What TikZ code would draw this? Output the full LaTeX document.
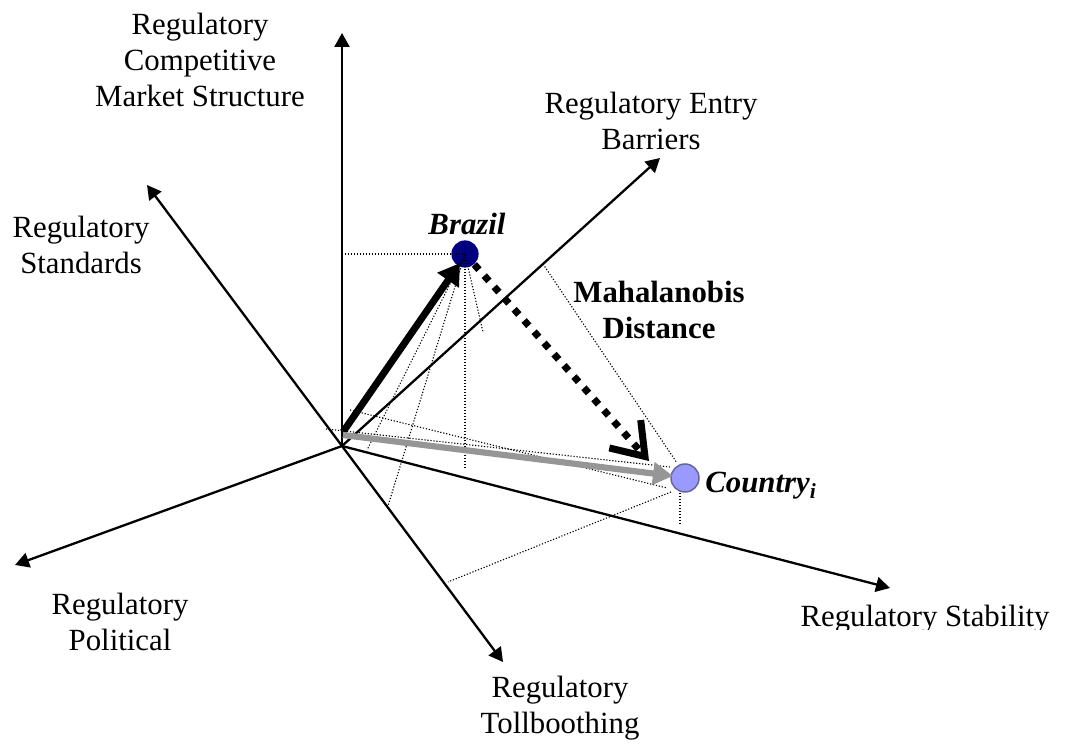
\documentclass[tikz,border=0pt]{standalone}
\usepackage{fontspec}
\setmainfont{Liberation Serif}
\usetikzlibrary{arrows.meta}
\definecolor{brazilblue}{RGB}{0,0,128}
\definecolor{countryfill}{RGB}{153,153,255}
\definecolor{countryline}{RGB}{102,102,153}
\definecolor{vecgray}{RGB}{150,150,150}
\newcommand\lblfont{\fontsize{15.4}{18}\selectfont}
\begin{document}
\begin{tikzpicture}[x=0.5pt,y=-0.5pt,
  axis/.style={line width=1.15pt,-{Triangle[length=7pt,width=7.5pt]}},
  proj/.style={line width=0.55pt,dash pattern=on 0.6pt off 0.9pt},
  lbl/.style={font=\lblfont,align=center,inner sep=0pt},
  boldlbl/.style={lbl,font=\lblfont\bfseries},
  bilbl/.style={lbl,font=\lblfont\bfseries\itshape},
  vecblack/.style={line width=3.5pt,-{Triangle[length=10.5pt,width=12.5pt]}},
  vecgrey/.style={draw=vecgray,line width=3.1pt,-{Triangle[length=10pt,width=11pt]}},
  mahal/.style={line width=3.5pt,dash pattern=on 3.5pt off 4pt,-{Straight Barb[length=15pt,width=21pt]}}
]
\useasboundingbox (0,0) rectangle (1065,747);

% axes
\coordinate (O) at (342,446);
\coordinate (tMkt) at (342,33);
\coordinate (tStd) at (147,185);
\coordinate (tEntry) at (660,158);
\coordinate (tPol) at (15,565);
\coordinate (tToll) at (503,662);
\coordinate (tStab) at (890,588);
\draw[axis] (O) -- (tMkt);
\draw[axis] (O) -- (tStd);
\draw[axis] (O) -- (tEntry);
\draw[axis] (O) -- (tPol);
\draw[axis] (O) -- (tToll);
\draw[axis] (O) -- (tStab);

% projection lines for Country
\coordinate (c1s) at (350,410);
\coordinate (c1e) at (667,488);
\coordinate (c2s) at (326,429);
\coordinate (c2e) at (670,467);
\coordinate (c3s) at (671,492);
\coordinate (c3e) at (448,582);
\coordinate (c4s) at (680,493);
\coordinate (c4e) at (680,525);
\coordinate (c5s) at (543,264);
\coordinate (c5e) at (677,463);
\draw[proj] (c1s) -- (c1e);
\draw[proj] (c2s) -- (c2e);
\draw[proj] (c3s) -- (c3e);
\draw[proj] (c4s) -- (c4e);
\draw[proj] (c5s) -- (c5e);

% Brazil point and its projection lines
\node[circle,fill=brazilblue,minimum size=13.6pt,inner sep=0pt] (brazil) at (465,254) {};
\coordinate (b0) at (342,254);
\coordinate (b1) at (465,468);
\coordinate (b2) at (367,450);
\coordinate (b3) at (388,506);
\coordinate (b4) at (483,332);
\draw[proj] (b0) -- (brazil.center);
\draw[proj] (brazil.center) -- (b1);
\draw[proj] (brazil.center) -- (b2);
\draw[proj] (brazil.center) -- (b3);
\draw[proj] (brazil.center) -- (b4);

% Country point
\node[circle,fill=countryfill,draw=countryline,line width=0.75pt,minimum size=14pt,inner sep=0pt] (country) at (685,478) {};

% vectors
\coordinate (v0) at (343,432);
\coordinate (vB) at (460,263);
\draw[vecblack] (v0) -- (vB);
\coordinate (g0) at (343,435);
\coordinate (gC) at (673,476);
\draw[vecgrey] (g0) -- (gC);
\coordinate (mTip) at (649,461);
\draw[mahal] (brazil) -- (mTip);

% labels
\node[lbl] (lMkt) at (200,60) {Regulatory\\Competitive\\Market Structure};
\node[lbl] (lStd) at (81,245) {Regulatory\\Standards};
\node[lbl] (lEntry) at (651,121) {Regulatory Entry\\Barriers};
\node[lbl] (lPol) at (120,622) {Regulatory\\Political};
\node[lbl] (lToll) at (560,708) {Regulatory\\Tollboothing};
\begin{scope}
  \clip (700,560) rectangle (1065,630);
  \node[lbl,anchor=base] (lStab) at (925,627) {Regulatory Stability};
\end{scope}
\node[bilbl,anchor=base] (lBrazil) at (467,235) {Brazil};
\node[boldlbl] (lMaha) at (659,310) {Mahalanobis\\Distance};
\node[bilbl,anchor=base west] (lCountry) at (705,493) {Country\textsubscript{i}};
\end{tikzpicture}
\end{document}
